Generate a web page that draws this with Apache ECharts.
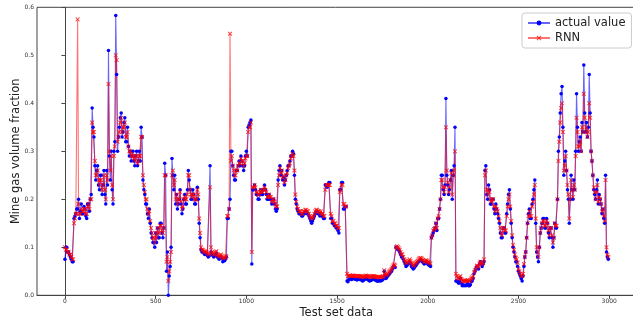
<!DOCTYPE html>
<html lang="en">
<head>
	<meta charset="UTF-8">
	<title>mine_gas_rnn</title>
	<script src="https://cdn.jsdelivr.net/npm/echarts@6/dist/echarts.min.js"></script>
</head>
<body style="margin:0;background:#fff;">
<div id="gasChart" style="width:633px;height:322px;"></div>
<script type="text/javascript">
    // every 5th sample of the test set
    var sampleStep = 5;
    var seriesNames = ['actual value', 'RNN'];
    var xTicks = [0, 500, 1000, 1500, 2000, 2500, 3000];

    var actualValue = [
        .075,.1,.1,.09,.09,.085,.08,.075,.07,.07,.16,.165,.17,.18,.18,.2,.16,.175,.19,.17,
        .17,.185,.18,.165,.16,.19,.19,.175,.2,.21,.39,.35,.33,.27,.24,.26,.27,.23,.22,.25,
        .25,.21,.23,.26,.21,.19,.26,.23,.51,.29,.24,.3,.22,.19,.3,.32,.583,.46,.3,.33,
        .35,.37,.38,.33,.34,.36,.37,.32,.32,.35,.31,.29,.3,.28,.29,.3,.28,.27,.29,.3,
        .27,.28,.3,.28,.35,.33,.24,.22,.21,.19,.19,.17,.16,.18,.15,.13,.12,.11,.11,.1,
        .13,.11,.14,.12,.12,.15,.15,.13,.12,.14,.275,.25,.05,.09,0,.04,.06,.1,.285,.25,
        .22,.25,.19,.21,.18,.19,.2,.22,.19,.17,.18,.2,.21,.19,.19,.22,.26,.24,.22,.2,
        .2,.22,.21,.19,.19,.2,.225,.2,.15,.12,.095,.09,.09,.088,.085,.087,.085,.083,.08,.082,
        .27,.09,.085,.083,.08,.082,.085,.088,.08,.078,.075,.078,.08,.077,.07,.072,.072,.075,.08,.16,
        .16,.18,.2,.3,.3,.27,.25,.24,.24,.26,.26,.27,.28,.27,.29,.28,.27,.26,.27,.29,
        .3,.29,.35,.355,.36,.365,.065,.22,.22,.23,.22,.21,.21,.2,.2,.21,.22,.21,.21,.22,
        .23,.22,.21,.2,.2,.21,.2,.2,.19,.2,.2,.19,.18,.175,.18,.24,.26,.27,.25,.26,
        .24,.245,.23,.24,.25,.26,.27,.27,.28,.29,.29,.3,.295,.25,.2,.19,.18,.175,.17,.17,
        .17,.165,.165,.17,.17,.175,.175,.17,.17,.165,.16,.155,.15,.155,.16,.165,.17,.175,.175,.17,
        .17,.165,.17,.165,.165,.16,.16,.23,.23,.225,.23,.235,.235,.16,.16,.15,.15,.145,.145,.14,
        .14,.135,.13,.22,.22,.235,.235,.18,.18,.185,.185,.03,.028,.033,.035,.034,.033,.035,.035,.034,
        .034,.033,.032,.034,.034,.033,.033,.032,.03,.031,.033,.034,.035,.034,.033,.031,.03,.031,.032,.033,
        .034,.033,.032,.031,.03,.03,.03,.031,.03,.031,.032,.034,.05,.04,.035,.038,.04,.043,.045,.048,
        .05,.055,.06,.06,.058,.1,.1,.095,.095,.09,.085,.08,.08,.075,.07,.065,.06,.062,.065,.068,
        .07,.065,.06,.058,.055,.057,.06,.062,.065,.068,.07,.072,.075,.073,.07,.068,.065,.067,.07,.068,
        .065,.063,.062,.06,.12,.125,.13,.135,.14,.15,.135,.16,.16,.18,.2,.25,.25,.22,.21,.23,
        .41,.25,.23,.21,.22,.24,.26,.2,.25,.27,.35,.03,.03,.028,.025,.03,.035,.025,.02,.022,
        .02,.021,.02,.022,.025,.02,.02,.022,.028,.03,.035,.045,.05,.055,.06,.058,.055,.065,.07,.065,
        .06,.065,.07,.26,.27,.21,.2,.23,.22,.19,.19,.2,.2,.18,.17,.19,.18,.17,.16,.15,
        .13,.12,.12,.14,.14,.13,.13,.17,.19,.21,.22,.18,.15,.12,.1,.09,.08,.07,.07,.06,
        .05,.045,.04,.035,.03,.04,.06,.08,.09,.12,.15,.17,.18,.16,.16,.19,.2,.22,.24,.15,
        .09,.08,.07,.1,.13,.14,.15,.16,.16,.14,.14,.16,.15,.13,.12,.14,.14,.12,.1,.12,
        .15,.14,.14,.2,.3,.33,.38,.42,.435,.35,.25,.28,.3,.26,.22,.2,.15,.2,.25,.22,
        .2,.24,.22,.3,.42,.35,.3,.32,.33,.3,.36,.34,.48,.38,.34,.36,.33,.35,.46,.38,
        .3,.28,.25,.22,.21,.2,.22,.24,.19,.21,.2,.19,.17,.18,.16,.15,.25,.09,.08,.075
    ];

    var rnnValue = [
        .1,.095,.095,.09,.09,.085,.085,.08,.075,.075,.15,.16,.17,.17,.575,.19,.17,.17,.18,.175,
        .175,.18,.18,.17,.17,.185,.19,.18,.2,.2,.36,.34,.34,.28,.25,.25,.26,.24,.23,.24,
        .24,.22,.23,.25,.22,.2,.25,.24,.44,.3,.26,.29,.23,.2,.29,.31,.5,.49,.32,.33,
        .34,.36,.37,.34,.35,.35,.36,.33,.33,.34,.31,.3,.3,.29,.295,.29,.285,.28,.29,.29,
        .275,.28,.29,.29,.33,.33,.25,.23,.215,.2,.2,.18,.17,.175,.155,.14,.13,.12,.12,.11,
        .13,.12,.14,.13,.13,.145,.145,.135,.13,.14,.25,.25,.07,.08,.03,.05,.07,.09,.25,.26,
        .23,.24,.2,.21,.19,.2,.2,.215,.195,.18,.185,.2,.205,.2,.2,.21,.25,.25,.22,.21,
        .205,.21,.21,.2,.2,.2,.22,.21,.16,.13,.1,.095,.095,.092,.09,.092,.09,.088,.085,.087,
        .225,.1,.09,.088,.085,.087,.09,.092,.085,.083,.08,.083,.085,.082,.078,.078,.078,.08,.082,.165,
        .165,.18,.545,.28,.29,.27,.26,.25,.25,.26,.26,.27,.275,.275,.285,.28,.28,.27,.275,.285,
        .29,.29,.34,.35,.35,.36,.09,.225,.225,.23,.225,.215,.215,.21,.21,.215,.22,.215,.215,.22,
        .225,.22,.215,.205,.205,.21,.205,.205,.195,.2,.2,.195,.19,.185,.185,.23,.25,.265,.255,.26,
        .245,.25,.235,.24,.25,.255,.265,.27,.275,.285,.29,.295,.29,.26,.21,.195,.185,.18,.175,.175,
        .175,.17,.17,.175,.175,.178,.178,.175,.175,.17,.165,.162,.16,.162,.165,.17,.175,.178,.178,.175,
        .175,.172,.175,.17,.17,.165,.165,.22,.23,.23,.23,.23,.23,.17,.165,.155,.155,.15,.15,.145,
        .145,.14,.14,.215,.22,.23,.23,.19,.19,.185,.185,.045,.04,.04,.041,.04,.04,.041,.041,.04,
        .04,.04,.039,.04,.04,.04,.04,.039,.038,.038,.039,.04,.041,.04,.04,.039,.038,.038,.039,.04,
        .04,.04,.039,.038,.038,.038,.038,.038,.038,.038,.039,.04,.052,.045,.042,.043,.045,.048,.05,.052,
        .055,.058,.062,.064,.062,.1,.102,.1,.098,.095,.09,.086,.085,.08,.075,.072,.068,.068,.07,.072,
        .075,.072,.068,.065,.062,.063,.066,.068,.07,.072,.075,.077,.078,.077,.075,.073,.07,.071,.073,.072,
        .07,.069,.068,.066,.12,.125,.135,.138,.14,.15,.14,.16,.165,.18,.2,.24,.24,.225,.215,.225,
        .35,.26,.235,.215,.225,.24,.255,.21,.25,.26,.3,.045,.04,.036,.035,.038,.04,.034,.03,.03,
        .03,.031,.03,.031,.032,.03,.03,.032,.035,.037,.04,.048,.052,.056,.062,.06,.06,.066,.07,.068,
        .065,.068,.075,.25,.26,.22,.21,.22,.215,.2,.195,.2,.2,.185,.175,.185,.18,.175,.165,.155,
        .14,.13,.125,.14,.14,.135,.135,.165,.185,.2,.21,.185,.155,.125,.105,.095,.085,.078,.075,.068,
        .055,.05,.045,.04,.04,.045,.065,.08,.09,.12,.15,.165,.175,.165,.165,.185,.195,.21,.23,.16,
        .1,.09,.08,.1,.13,.14,.15,.155,.155,.145,.145,.155,.15,.135,.125,.14,.14,.125,.11,.12,
        .15,.145,.145,.2,.28,.32,.36,.39,.4,.34,.26,.27,.29,.26,.23,.21,.16,.2,.24,.22,
        .205,.23,.22,.29,.37,.34,.31,.31,.32,.3,.35,.34,.42,.37,.34,.35,.33,.34,.4,.37,
        .3,.28,.25,.225,.215,.2,.215,.23,.195,.205,.2,.19,.175,.18,.165,.155,.24,.1,.085,.08
    ];

    var toPairs = function(values){
        var res = [];
        for (var i = 0; i < values.length; i++) {
            res.push([i * sampleStep, values[i]]);
        }
        return res;
    };

    var crossSymbol = 'path://M0,1.5L1.5,0L5,3.5L8.5,0L10,1.5L6.5,5L10,8.5L8.5,10L5,6.5L1.5,10L0,8.5L3.5,5Z';
    var tickFont = {fontFamily: 'DejaVu Sans', fontSize: 6, color: '#333'};

    var gasChart = echarts.init(document.getElementById('gasChart'), null, {renderer: 'canvas'});

    var option = {
        animation: false,
        backgroundColor: '#fff',
        grid: {
            left: 37, top: 7.3, width: 598.5, height: 288,
            outerBoundsMode: 'none',
            containLabel: false,
            show: true, borderColor: '#444', borderWidth: 1
        },
        legend: {
            data: seriesNames,
            orient: 'vertical',
            left: 522, top: 13,
            padding: [4, 6, 4, 5],
            itemGap: 3,
            itemWidth: 22,
            itemHeight: 6,
            backgroundColor: 'rgba(255,255,255,0.85)',
            borderColor: '#ccc',
            borderWidth: 1,
            borderRadius: 3,
            textStyle: {fontFamily: 'DejaVu Sans', fontSize: 11.5, color: '#222'}
        },
        xAxis: {
            type: 'value',
            min: -154, max: 3145,
            name: 'Test set data',
            nameLocation: 'middle',
            nameGap: 12,
            nameMoveOverlap: false,
            nameTextStyle: {fontFamily: 'DejaVu Sans', fontSize: 11.5, color: '#222'},
            splitLine: {show: false},
            axisLine: {lineStyle: {color: '#444', width: 1}},
            axisTick: {show: true, length: 3.5, lineStyle: {color: '#444'}, customValues: xTicks},
            axisLabel: Object.assign({
                margin: 3,
                customValues: xTicks,
                formatter: function(v){ return String(v); }
            }, tickFont)
        },
        yAxis: {
            type: 'value',
            min: 0, max: 0.6, interval: 0.1,
            name: 'Mine gas volume fraction',
            nameLocation: 'middle',
            nameGap: 15,
            nameMoveOverlap: false,
            nameRotate: 90,
            nameTextStyle: {fontFamily: 'DejaVu Sans', fontSize: 11.5, color: '#222'},
            splitLine: {show: false},
            axisLine: {show: true, lineStyle: {color: '#444', width: 1}},
            axisTick: {show: true, length: 3.5, lineStyle: {color: '#444'}},
            axisLabel: Object.assign({
                margin: 3,
                formatter: function(v){ return v.toFixed(1); }
            }, tickFont)
        },
        series: [
            {
                name: seriesNames[0],
                type: 'line',
                data: toPairs(actualValue),
                symbol: 'circle',
                symbolSize: 3.5,
                showAllSymbol: true,
                itemStyle: {color: '#0000ff'},
                lineStyle: {color: '#0000ff', width: 1.1, opacity: 0.6}
            },
            {
                name: seriesNames[1],
                type: 'line',
                data: toPairs(rnnValue),
                symbol: crossSymbol,
                symbolSize: 4.5,
                showAllSymbol: true,
                itemStyle: {color: '#ff0000', opacity: 0.75},
                lineStyle: {color: '#ff0000', width: 1.1, opacity: 0.55}
            }
        ]
    };

    gasChart.setOption(option);
</script>
</body>
</html>
